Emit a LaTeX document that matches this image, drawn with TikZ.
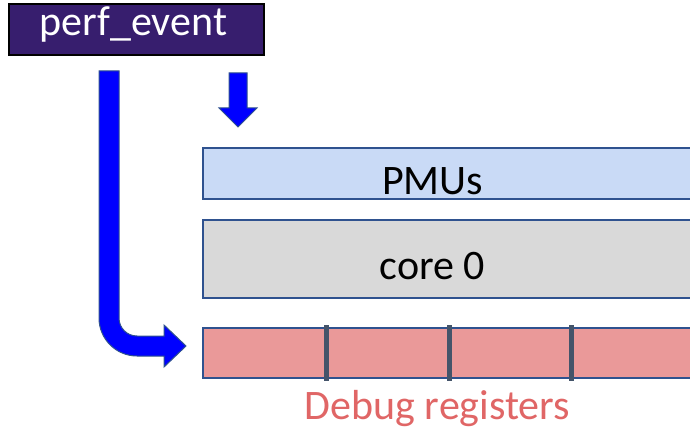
\documentclass[tikz,border=0pt]{standalone}
\usepackage{fontspec}
\setmainfont{Carlito}
\definecolor{perfbg}{RGB}{55,30,110}
\definecolor{boxedge}{RGB}{47,82,143}
\definecolor{pmufill}{RGB}{201,218,246}
\definecolor{corefill}{RGB}{217,217,217}
\definecolor{dbgfill}{RGB}{234,153,153}
\definecolor{dbgtext}{RGB}{224,102,102}
\definecolor{divider}{RGB}{68,84,106}
\definecolor{arrowblue}{RGB}{0,0,255}
\tikzset{
  bigtext/.style={font=\fontsize{42}{50}\selectfont, inner sep=0pt, anchor=base},
  bandbox/.style={draw=boxedge, line width=2.5pt},
  blockarrow/.style={fill=arrowblue, draw=boxedge, line width=1pt, line join=miter},
  divline/.style={draw=divider, line width=5pt}
}
\begin{document}
\begin{tikzpicture}[x=1pt,y=-1pt]
\useasboundingbox (0,0) rectangle (690,430);
\clip (0,0) rectangle (690,430);
% perf_event box
\draw[fill=perfbg, draw=black, line width=2pt] (9,4) rectangle (264,55);
\node[bigtext, text=white] (perf) at (133.5,36) {perf\_event};
% bands
\draw[bandbox, fill=pmufill] (203,148) rectangle (720,199);
\node[bigtext] (pmu) at (432.5,195) {PMUs};
\draw[bandbox, fill=corefill] (203,220) rectangle (720,298);
\node[bigtext] (core) at (432.5,279) {core 0};
\draw[draw=boxedge, line width=2pt, fill=dbgfill] (203,328) rectangle (720,378);
\coordinate (d1t) at (326,325); \coordinate (d1b) at (326,381);
\coordinate (d2t) at (449,325); \coordinate (d2b) at (449,381);
\coordinate (d3t) at (571,325); \coordinate (d3b) at (571,381);
\draw[divline] (d1t) -- (d1b);
\draw[divline] (d2t) -- (d2b);
\draw[divline] (d3t) -- (d3b);
\node[bigtext, text=dbgtext] (dbg) at (437.5,419) {Debug registers};
% small down arrow
\draw[blockarrow] (229,73) -- (247,73) -- (247,108) -- (257,108) -- (238,127)
  -- (219,108) -- (229,108) -- cycle;
% bent arrow
\draw[blockarrow] (99,71) -- (119,71) -- (119,318)
  .. controls (119,328) and (127,336) .. (137,336) -- (164,336) -- (164,325)
  -- (186,346) -- (164,367) -- (164,356) -- (137,356)
  .. controls (116,356) and (99,339) .. (99,318) -- cycle;
\end{tikzpicture}
\end{document}
